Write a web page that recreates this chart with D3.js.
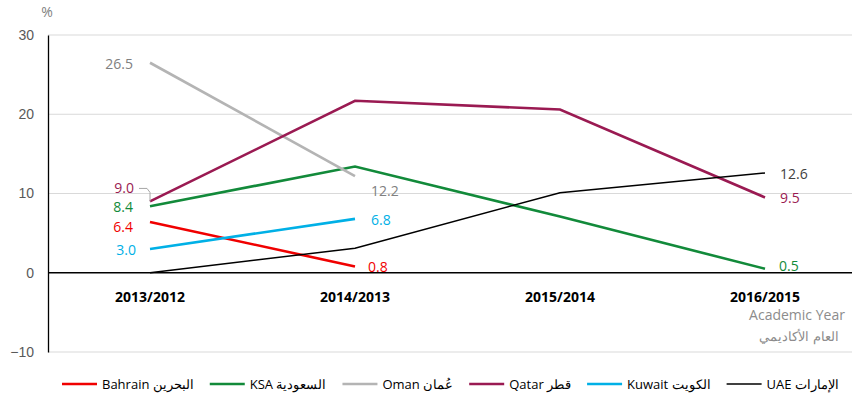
<!DOCTYPE html>
<html>
<head>
<meta charset="utf-8">
<script src="https://cdn.jsdelivr.net/npm/d3@7"></script>
<style>
  body { margin: 0; background: #fff; }
  svg { font-family: "Open Sans", "Noto Sans", sans-serif; }
</style>
</head>
<body>
<svg id="chart" width="861" height="400"></svg>
<script>
// categories and series
const years = ["2013/2012", "2014/2013", "2015/2014", "2016/2015"];
const yTicks = [-10, 0, 10, 20, 30];

const bahrain = [6.4, 0.8, null, null];
const ksa = [8.4, 13.4, 7.1, 0.5];
const oman = [26.5, 12.2, null, null];
const qatar = [9.0, 21.7, 20.6, 9.5];
const kuwait = [3.0, 6.8, null, null];
const uae = [0.0, 3.1, 10.1, 12.6];

const seriesNames = ["Bahrain البحرين", "KSA السعودية", "Oman عُمان", "Qatar قطر", "Kuwait الكويت", "UAE الإمارات"];
const seriesValues = [bahrain, ksa, oman, qatar, kuwait, uae];
const colors = ["#f00000", "#128a3a", "#b4b4b4", "#9a1a52", "#00b0e6", "#000000"];
const widths = [2.6, 2.6, 2.6, 2.6, 2.6, 1.5];

// which points carry a value label: [series, index, dx, dy, anchor]
const labels = [
  [2, 0, -17, 6, "end"],
  [2, 1, 16, 20, "start"],
  [3, 0, -16, -8, "end"],
  [1, 0, -17, 6, "end"],
  [0, 0, -17, 10, "end"],
  [4, 0, -14, 6, "end"],
  [4, 1, 16, 6, "start"],
  [0, 1, 13, 6, "start"],
  [5, 3, 15, 6, "start"],
  [3, 3, 15, 6, "start"],
  [1, 3, 14, 2, "start"]
];

const svg = d3.select("#chart");
const left = 48, right = 852;

const x = d3.scalePoint().domain(years).range([150, 765]);
const y = d3.scaleLinear().domain([-10, 30]).range([352, 35]);

// gridlines
svg.append("g").selectAll("line")
  .data(yTicks.filter(d => d !== 0))
  .enter().append("line")
  .attr("x1", left).attr("x2", right)
  .attr("y1", d => y(d)).attr("y2", d => y(d))
  .attr("stroke", "#d9d9d9").attr("stroke-width", 1);

// y axis
const yAxis = svg.append("g")
  .attr("transform", `translate(${left},0)`)
  .call(d3.axisLeft(y).tickValues(yTicks).tickSize(0).tickPadding(14).tickFormat(d3.format("d")));
yAxis.select(".domain").attr("stroke", "#000").attr("stroke-width", 1.3);
yAxis.selectAll("text").attr("fill", "#595959").style("font-size", "14px");

svg.append("text").attr("x", 47).attr("y", 17)
  .attr("text-anchor", "middle").attr("fill", "#7f7f7f")
  .style("font-size", "14px").text("%");

// zero line
svg.append("line")
  .attr("x1", left).attr("x2", right)
  .attr("y1", y(0)).attr("y2", y(0))
  .attr("stroke", "#000").attr("stroke-width", 1.3);

// category labels
svg.append("g").selectAll("text")
  .data(years).enter().append("text")
  .attr("x", d => x(d)).attr("y", 302)
  .attr("text-anchor", "middle")
  .style("font-size", "14px").style("font-weight", "bold")
  .attr("fill", "#000")
  .text(d => d);

svg.append("text").attr("x", 797).attr("y", 320)
  .attr("text-anchor", "middle").attr("fill", "#8c8c8c")
  .style("font-size", "14px").text("Academic Year");
svg.append("text").attr("x", 799).attr("y", 341)
  .attr("text-anchor", "middle").attr("fill", "#8c8c8c")
  .style("font-size", "13px").text("العام الأكاديمي");

// lines
const line = d3.line()
  .defined(d => d.v != null)
  .x(d => x(d.year))
  .y(d => y(d.v));

seriesValues.forEach((vals, i) => {
  const pts = vals.map((v, j) => ({ year: years[j], v: v }));
  svg.append("path")
    .datum(pts)
    .attr("d", line)
    .attr("fill", "none")
    .attr("stroke", colors[i])
    .attr("stroke-width", widths[i]);
});

// leader line for Qatar 9.0 label
svg.append("path")
  .attr("d", `M${x(years[0]) - 11},${y(9.0) - 13} h8 l3,4 v9`)
  .attr("fill", "none").attr("stroke", "#a6a6a6").attr("stroke-width", 1);

// value labels
labels.forEach(([s, j, dx, dy, anchor]) => {
  const v = seriesValues[s][j];
  svg.append("text")
    .attr("x", x(years[j]) + dx)
    .attr("y", y(v) + dy)
    .attr("text-anchor", anchor)
    .attr("fill", s === 5 ? "#404040" : (s === 2 ? "#808080" : colors[s]))
    .style("font-size", "14px")
    .text(v.toFixed(1));
});

// legend
const legend = svg.append("g");
let lx = 62;
seriesNames.forEach((name, i) => {
  legend.append("line")
    .attr("x1", lx).attr("x2", lx + 35)
    .attr("y1", 384).attr("y2", 384)
    .attr("stroke", colors[i]).attr("stroke-width", widths[i]);
  const t = legend.append("text")
    .attr("x", lx + 40).attr("y", 389)
    .attr("direction", "ltr")
    .style("font-size", "13px").attr("fill", "#000")
    .text(name);
  lx += 40 + t.node().getComputedTextLength() + 16;
});
</script>
</body>
</html>
